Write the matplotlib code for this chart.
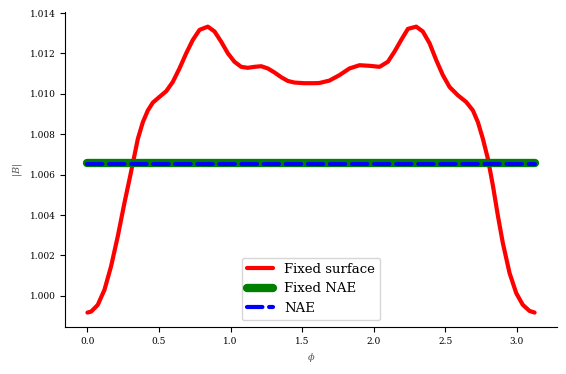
import numpy as np
from matplotlib import pyplot as plt

plt.rcParams["font.family"] = "DejaVu Serif"
plt.rcParams["mathtext.fontset"] = "dejavuserif"
plt.rcParams["lines.solid_capstyle"] = "round"
plt.rcParams["lines.dash_capstyle"] = "round"

# |B| along phi
phi = [0.000, 0.026, 0.072, 0.119, 0.165, 0.212, 0.259, 0.294, 0.328, 0.352,
       0.387, 0.422, 0.457, 0.503, 0.550, 0.596, 0.643, 0.690, 0.736, 0.783,
       0.841, 0.888, 0.934, 0.981, 1.027, 1.074, 1.120, 1.167, 1.214, 1.260,
       1.307, 1.353, 1.400, 1.447, 1.516, 1.586, 1.621, 1.691, 1.761, 1.831,
       1.901, 1.971, 2.041, 2.099, 2.145, 2.192, 2.239, 2.297, 2.343, 2.390,
       2.437, 2.483, 2.530, 2.588, 2.646, 2.693, 2.728, 2.763, 2.798, 2.833,
       2.868, 2.902, 2.949, 2.996, 3.042, 3.089, 3.124]
fixed_surface = [0.99917, 0.99922, 0.99955, 1.00030, 1.00146, 1.00295, 1.00462, 1.00578,
                 1.00694, 1.00777, 1.00860, 1.00918, 1.00957, 1.00985, 1.01013, 1.01059,
                 1.01126, 1.01201, 1.01267, 1.01317, 1.01333, 1.01309, 1.01259, 1.01201,
                 1.01159, 1.01134, 1.01129, 1.01134, 1.01137, 1.01126, 1.01106, 1.01083,
                 1.01064, 1.01056, 1.01053, 1.01053, 1.01054, 1.01066, 1.01093, 1.01126,
                 1.01142, 1.01139, 1.01134, 1.01159, 1.01209, 1.01267, 1.01322, 1.01333,
                 1.01309, 1.01251, 1.01167, 1.01093, 1.01034, 1.00993, 1.00960, 1.00918,
                 1.00860, 1.00777, 1.00678, 1.00545, 1.00395, 1.00262, 1.00113, 1.00013,
                 0.99955, 0.99925, 0.99917]
fixed_nae = [1.00656] * len(phi)
nae = [1.00654] * len(phi)

fig, ax = plt.subplots(figsize=(5.66, 3.74), dpi=100)

ax.plot(phi, fixed_surface, color="red", lw=3, label="Fixed surface")
ax.plot(phi, fixed_nae, color="green", lw=6, label="Fixed NAE")
ax.plot(phi, nae, color="blue", lw=3, ls="--", label="NAE")

ax.set_xlabel(r"$\phi$", fontsize=7, color="0.35")
ax.set_ylabel(r"$|B|$", fontsize=7, color="0.35")
ax.tick_params(labelsize=6.5, length=3.5)
ax.spines["top"].set_visible(False)
ax.spines["right"].set_visible(False)
ax.legend(loc="lower center", fontsize=9.5)

fig.subplots_adjust(left=0.115, right=0.984, top=0.967, bottom=0.126)
fig.savefig("out.png")
